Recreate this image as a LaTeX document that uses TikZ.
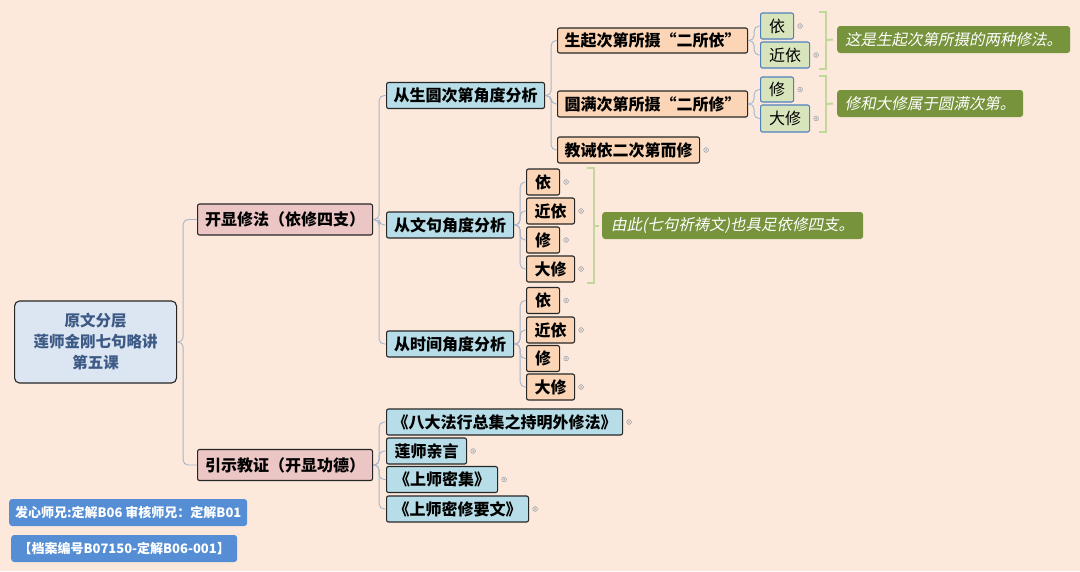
\documentclass[tikz,border=0pt]{standalone}
\usepackage{fontspec}
\setmainfont{Noto Sans CJK SC}
\newfontfamily\slantcjk[FakeSlant=0.2]{Noto Sans CJK SC}
\definecolor{bgc}{HTML}{FCE9DB}
\definecolor{rootfill}{HTML}{DCE6F2}
\definecolor{roottext}{HTML}{3C5A85}
\definecolor{pinkfill}{HTML}{EBC6C5}
\definecolor{bluefill}{HTML}{B7DEE8}
\definecolor{orangefill}{HTML}{FBD5B5}
\definecolor{greenfill}{HTML}{D8E4BC}
\definecolor{leafline}{HTML}{4F81BD}
\definecolor{callfill}{HTML}{77933C}
\definecolor{bracec}{HTML}{C3D69B}
\definecolor{labfill}{HTML}{558ED5}
\definecolor{linkc}{HTML}{A5B5CB}
\begin{document}
\begin{tikzpicture}[x=1pt,y=-1pt,
  every node/.style={inner sep=0pt,anchor=west,align=center},
  box/.style={draw=black!85,line width=1.1pt,rounded corners=2pt,minimum height=26pt,
    font=\fontsize{16}{19}\selectfont\bfseries},
  rootbox/.style={box,fill=rootfill,text=roottext,rounded corners=5pt,
    font=\fontsize{15.5}{21}\selectfont\bfseries},
  topic/.style={box,fill=pinkfill,minimum height=31pt},
  view/.style={box,fill=bluefill},
  part/.style={box,fill=orangefill},
  leaf/.style={box,fill=greenfill,draw=leafline,font=\fontsize{16}{19}\selectfont},
  note/.style={fill=callfill,text=white,rounded corners=3pt,minimum height=27pt,
    font=\fontsize{15.5}{18}\selectfont\slantcjk},
  tag/.style={fill=labfill,text=white,rounded corners=3pt,minimum height=27pt,
    font=\fontsize{13}{16}\selectfont\bfseries},
  link/.style={draw=linkc,line width=0.9pt,rounded corners=5pt},
  brace/.style={draw=bracec,line width=2pt},
  fold/.style={draw=linkc!80!black,line width=0.4pt}]
\useasboundingbox (0,0) rectangle (1080,571);
\fill[bgc] (0,0) rectangle (1080,571);

% root and the two main branches
\node[rootbox,minimum width=162pt,minimum height=82pt] (root) at (14,342)
  {原文分层\\莲师金刚七句略讲\\第五课};
\node[topic,minimum width=175pt] (kx) at (197,219.5) {开显修法（依修四支）};
\node[topic,minimum width=175pt] (yj) at (197,465) {引示教证（开显功德）};

% second level
\node[view,minimum width=158pt] (sy) at (386,95.5) {从生圆次第角度分析};
\node[view,minimum width=127pt] (wj) at (386,225) {从文句角度分析};
\node[view,minimum width=127pt] (sj) at (386,344) {从时间角度分析};
\node[view,minimum width=236pt] (b1) at (386,422) {《八大法行总集之持明外修法》};
\node[view,minimum width=80pt] (b2) at (386,451) {莲师亲言};
\node[view,minimum width=111pt] (b3) at (386,479.5) {《上师密集》};
\node[view,minimum width=142pt] (b4) at (386,509) {《上师密修要文》};

% generation / completion stages
\node[part,minimum width=190pt,minimum height=25pt] (sq) at (557,40.5) {生起次第所摄“二所依”};
\node[part,minimum width=190pt] (ym) at (557,104) {圆满次第所摄“二所修”};
\node[part,minimum width=142pt] (jj) at (557,150) {教诫依二次第而修};

\node[leaf,minimum width=33pt] (g1) at (760,26) {依};
\node[leaf,minimum width=49pt] (g2) at (760,55) {近依};
\node[leaf,minimum width=33pt,minimum height=25pt] (g3) at (760,89.5) {修};
\node[leaf,minimum width=49pt,minimum height=27pt] (g4) at (760,118.5) {大修};

% the four branches, twice
\foreach \n/\y/\t/\w in {w1/182/依/33, w2/211/近依/48, w3/240/修/33, w4/269/大修/48,
    t1/300.5/依/33, t2/330/近依/48, t3/358.5/修/33, t4/387/大修/48} {
  \node[part,minimum width=\w pt] (\n) at (526,\y) {\t};
}

% notes
\node[note,minimum width=233pt] (c1) at (837,39.5) {这是生起次第所摄的两种修法。};
\node[note,minimum width=186pt] (c2) at (837,103.5) {修和大修属于圆满次第。};
\node[note,minimum width=261pt] (c3) at (602,225.5) {由此(七句祈祷文)也具足依修四支。};

\node[tag,minimum width=238pt] (lab1) at (9,512.5) {发心师兄:定解B06 审核师兄：定解B01};
\node[tag,minimum width=226pt] (lab2) at (11,548.5) {【档案编号B07150-定解B06-001】};

% connectors
\foreach \a/\b in {root/kx, root/yj, kx/sy, kx/wj, kx/sj, yj/b1, yj/b2, yj/b3, yj/b4,
    sy/sq, sy/ym, sy/jj, sq/g1, sq/g2, ym/g3, ym/g4,
    wj/w1, wj/w2, wj/w3, wj/w4, sj/t1, sj/t2, sj/t3, sj/t4} {
  \draw[link] (\a.east) -- ++(6,0) |- (\b.west);
}

% brackets
\draw[brace] (819,12) -- (826,12) -- (826,69) -- (819,69);
\draw[brace] (826,40) -- ([xshift=-4pt]c1.west);
\draw[brace] (819,76) -- (826,76) -- (826,132) -- (819,132);
\draw[brace] (826,104) -- ([xshift=-4pt]c2.west);
\draw[brace] (587,168) -- (594,168) -- (594,283) -- (587,283);
\draw[brace] (594,225.5) -- ([xshift=-3pt]c3.west);

% fold markers
\foreach \n in {g1,g2,g3,g4,w1,w2,w3,w4,t1,t2,t3,t4,jj,b1,b2,b3,b4} {
  \draw[fold] ([xshift=6pt]\n.east) circle (2.4pt) ++(-1.3,0) -- ++(2.6,0) ++(-1.3,-1.3) -- ++(0,2.6);
}
\end{tikzpicture}
\end{document}
